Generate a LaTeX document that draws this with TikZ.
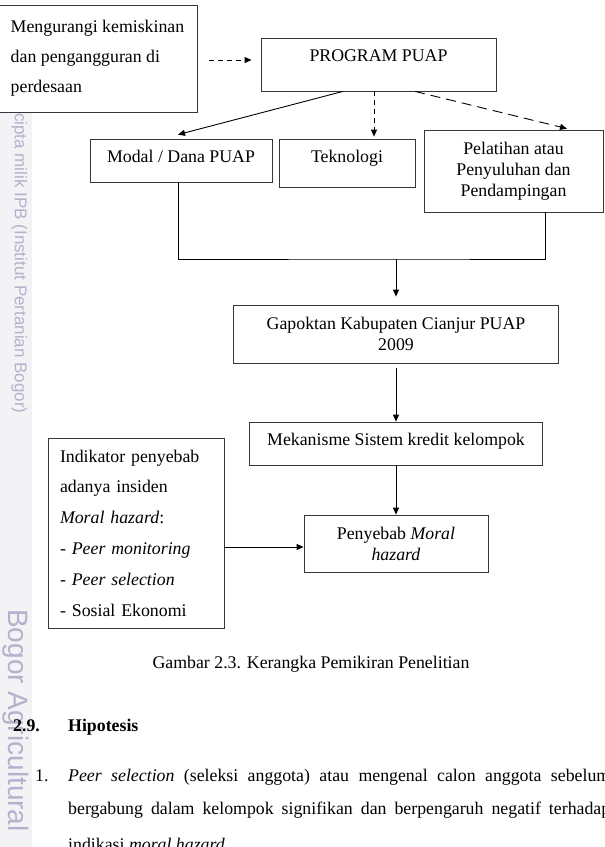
\documentclass[tikz,border=0pt]{standalone}
\usepackage{fontspec}
\setmainfont{Liberation Serif}
\newfontfamily\wmfont{Liberation Sans}
\usepackage{tikz}
\usetikzlibrary{positioning,arrows.meta}
\definecolor{boxline}{RGB}{55,55,55}
\definecolor{wmtext}{RGB}{178,178,204}
\definecolor{wmstrip}{RGB}{243,243,245}
\newcommand{\bodysize}{\fontsize{17.8}{21}\selectfont}
\tikzset{
  box/.style={draw=boxline, line width=0.8pt, rectangle, inner sep=0pt},
  arrow/.style={black, line width=0.9pt, -{Triangle[length=7pt,width=6pt]}},
  dasharrow/.style={arrow, dash pattern=on 5pt off 4pt},
  longdash/.style={arrow, dash pattern=on 10pt off 6pt},
  link/.style={black, line width=0.9pt},
  bodytext/.style={inner sep=0pt, anchor=base west},
  watermark/.style={inner sep=0pt, anchor=base west, rotate=-90, text=wmtext}
}

\begin{document}
\begin{tikzpicture}[x=1pt, y=-1pt, font=\bodysize]
\useasboundingbox (0,0) rectangle (605,847);
\fill[wmstrip] (0,112) rectangle (32,847);
\node[watermark, font=\wmfont\fontsize{17}{20}\selectfont] (wmtop) at (15,113) {cipta milik IPB (Institut Pertanian Bogor)};
\node[watermark, font=\wmfont\fontsize{28}{32}\selectfont] (wmbottom) at (9,609) {Bogor Agricultural};

\node[box, fill=white, minimum width=199pt, minimum height=107pt, align=left] (goal) at (97.5,58.5) {Mengurangi kemiskinan\\[9pt]dan pengangguran di\\[9pt]perdesaan};
\node[box, minimum width=235pt, minimum height=53pt, text height=12pt, text depth=17.2pt] (program) at (378.5,64.5) {PROGRAM PUAP};
\node[box, minimum width=182pt, minimum height=43pt, text height=12pt, text depth=7.2pt] (modal) at (181,160.5) {Modal / Dana PUAP};
\node[box, minimum width=136pt, minimum height=48pt, text height=12pt, text depth=12.2pt] (tekno) at (347,163) {Teknologi};
\node[box, minimum width=179pt, minimum height=82pt, align=center] (pelatihan) at (513.5,171) {Pelatihan atau\\Penyuluhan dan\\Pendampingan};
\node[box, minimum width=325pt, minimum height=58pt, align=center] (gapoktan) at (396,334) {Gapoktan Kabupaten Cianjur PUAP\\2009};
\node[box, minimum width=293pt, minimum height=43pt, text height=12pt, text depth=7.2pt] (mekanisme) at (396,443.5) {Mekanisme Sistem kredit kelompok};
\node[box, minimum width=184pt, minimum height=57pt, align=center] (penyebab) at (396,543.5) {Penyebab \textit{Moral}\\\textit{hazard}};
\node[box, minimum width=176pt, minimum height=190pt, inner xsep=12pt, text width=152pt, align=left] (indikator) at (136,533) {Indikator penyebab\\[9.8pt]adanya insiden\\[9.8pt]\textit{Moral hazard}:\\[9.8pt]- \textit{Peer monitoring}\\[9.8pt]- \textit{Peer selection}\\[9.8pt]- Sosial Ekonomi};

\draw[dasharrow] ([xshift=12pt,yshift=-1.5pt]goal.east) -- ([xshift=-9pt,yshift=4.5pt]program.west);
\draw[arrow] ([xshift=-35.5pt]program.south) -- ([xshift=-3pt,yshift=4pt]modal.north);
\draw[dasharrow] ([xshift=-4.5pt]program.south) -- ([xshift=27pt,yshift=2pt]tekno.north);
\draw[longdash] ([xshift=36.5pt]program.south) -- ([xshift=53.5pt,yshift=1pt]pelatihan.north);
\coordinate (merge) at (396,259);
\draw[link] ([xshift=-3pt]modal.south) |- (merge) -| ([xshift=31.5pt]pelatihan.south);
\draw[arrow, shorten >=8pt] (merge) -- (gapoktan.north);
\draw[arrow, shorten <=5pt] (gapoktan.south) -- (mekanisme.north);
\draw[arrow] (mekanisme.south) -- (penyebab.north);
\coordinate (penin) at ([yshift=-3.5pt]penyebab.west);
\draw[arrow] (indikator.east |- penin) -- (penin);

\node[inner sep=0pt, anchor=base] (caption) at (311,668) {Gambar 2.3. Kerangka Pemikiran Penelitian};
\node[bodytext, font=\bodysize\bfseries] (secnum) at (13,731) {2.9.};
\node[bodytext, font=\bodysize\bfseries] (sectitle) at (68,731) {Hipotesis};
\node[bodytext] (itemnum) at (35,781) {1.};
\node[bodytext] (lineone) at (68,781) {\makebox[542pt][s]{\textit{Peer selection} (seleksi anggota) atau mengenal calon anggota sebelum}};
\node[bodytext] (linetwo) at (68,814) {\makebox[542pt][s]{bergabung dalam kelompok signifikan dan berpengaruh negatif terhadap}};
\node[bodytext] (linethree) at (68,850) {indikasi \textit{moral hazard}.};
\end{tikzpicture}
\end{document}
